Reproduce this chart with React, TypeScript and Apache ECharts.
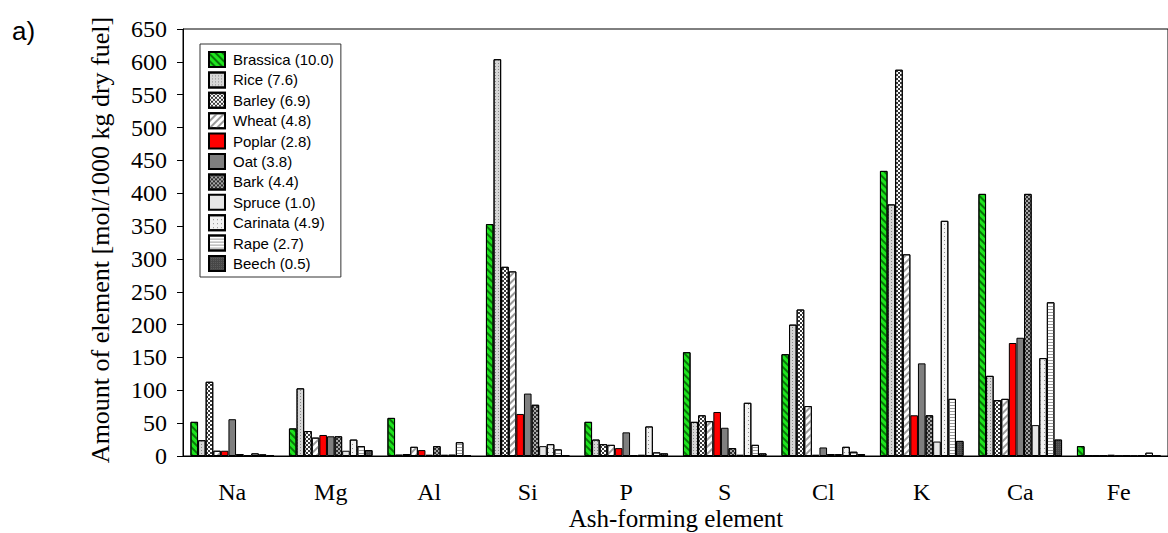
import React, { useEffect, useRef } from 'react';
import * as echarts from 'echarts';

const categories = ['Na', 'Mg', 'Al', 'Si', 'P', 'S', 'Cl', 'K', 'Ca', 'Fe'];
const seriesNames = [
  'Brassica (10.0)', 'Rice (7.6)', 'Barley (6.9)', 'Wheat (4.8)', 'Poplar (2.8)', 'Oat (3.8)',
  'Bark (4.4)', 'Spruce (1.0)', 'Carinata (4.9)', 'Rape (2.7)', 'Beech (0.5)',
];
const brassica = [52, 42, 58, 353, 52, 158, 155, 434, 399, 15];
const rice = [24, 103, 2, 604, 25, 52, 200, 383, 122, 0.5];
const barley = [113, 38, 3, 288, 18, 62, 223, 588, 85, 0.5];
const wheat = [8, 28, 14, 281, 17, 53, 76, 307, 87, 0.5];
const poplar = [8, 32, 9, 64, 12, 67, 2, 62, 172, 2];
const oat = [56, 30, 2, 95, 36, 43, 13, 141, 180, 0.5];
const bark = [3, 30, 15, 78, 1, 12, 3, 62, 399, 0.3];
const spruce = [1, 8, 2, 15, 2, 2, 3, 22, 47, 0.5];
const carinata = [4, 25, 2, 18, 45, 81, 14, 358, 149, 1];
const rape = [2.5, 15, 21, 10, 5.5, 17, 6.5, 87, 234, 5];
const beech = [1, 9, 1, 1, 4, 4, 3, 23, 25, 0.3];
const yTicks = { min: 0, max: 650, interval: 50 };

const seriesData = [brassica, rice, barley, wheat, poplar, oat, bark, spruce, carinata, rape, beech];

const diagBack = (color: string) => ({ symbol: 'rect', symbolSize: 1, dashArrayX: [1, 0], dashArrayY: [1.2, 2.4], rotation: Math.PI / 4, color });
const diagFwd = (color: string) => ({ symbol: 'rect', symbolSize: 1, dashArrayX: [1, 0], dashArrayY: [1.2, 2.4], rotation: -Math.PI / 4, color });
const dots = (color: string, gap: number) => ({ symbol: 'rect', symbolSize: 1, dashArrayX: [1, gap], dashArrayY: [1, gap], color });
const checker = (color: string) => ({ symbol: 'rect', symbolSize: 1, dashArrayX: [[1.5, 1.5], [0, 1.5, 1.5, 0]], dashArrayY: [1.5, 0], color });
const hlines = (color: string) => ({ symbol: 'rect', symbolSize: 1, dashArrayX: [1, 0], dashArrayY: [1, 2], color });

const styles: any[] = [
  { color: '#1ee41e', decal: diagBack('rgba(0,80,0,0.75)') },
  { color: '#d6d6d6', decal: dots('#8a8a8a', 2) },
  { color: '#ffffff', decal: checker('#3a3a3a') },
  { color: '#ffffff', decal: diagFwd('#9a9a9a') },
  { color: '#ff0000' },
  { color: '#7f7f7f' },
  { color: '#a8a8a8', decal: checker('#2e2e2e') },
  { color: '#e6e6e6' },
  { color: '#f2f2f2', decal: dots('#8c8c8c', 2.5) },
  { color: '#ffffff', decal: hlines('#9a9a9a') },
  { color: '#474747', decal: dots('#5c5c5c', 1) },
];

export default function App() {
  const ref = useRef<HTMLDivElement>(null);
  useEffect(() => {
    const chart = echarts.init(ref.current!, null, { renderer: 'svg' });
    const option: any = {
      animation: false,
      backgroundColor: '#ffffff',
      grid: { left: 183, top: 29, right: -3, bottom: 77, show: true, borderColor: '#000', borderWidth: 1 },
      legend: {
        orient: 'vertical', left: 200, top: 44, icon: 'rect',
        itemWidth: 16, itemHeight: 15, itemGap: 3.4,
        padding: [7, 7, 5, 8],
        borderColor: '#333', borderWidth: 1, backgroundColor: '#fff',
        textStyle: { fontFamily: 'Liberation Sans', fontSize: 15, lineHeight: 15, color: '#000', padding: [0, 0, 0, 3] },
        data: seriesNames,
      },
      xAxis: {
        type: 'category', data: categories,
        axisLine: { lineStyle: { color: '#000', width: 1 } },
        axisTick: { alignWithLabel: true, length: 6, lineStyle: { color: '#000' } },
        axisLabel: { fontFamily: 'Liberation Serif', fontSize: 24, color: '#000', margin: 24 },
      },
      yAxis: {
        type: 'value', min: yTicks.min, max: yTicks.max, interval: yTicks.interval,
        axisLine: { show: true, lineStyle: { color: '#000', width: 1 } },
        axisTick: { show: true, length: 6, lineStyle: { color: '#000' } },
        axisLabel: { fontFamily: 'Liberation Serif', fontSize: 24, color: '#000', margin: 16 },
        splitLine: { show: false },
      },
      graphic: [
        { type: 'text', left: 12, top: 18, style: { text: 'a)', font: '26px Liberation Sans', fill: '#000' } },
        {
          type: 'text', x: 100, y: 240, rotation: Math.PI / 2,
          style: { text: 'Amount of element [mol/1000 kg dry fuel]', font: '26px Liberation Serif', fill: '#000', textAlign: 'center', textVerticalAlign: 'middle', align: 'center', verticalAlign: 'middle' },
        },
        {
          type: 'text', x: 676, y: 518,
          style: { text: 'Ash-forming element', font: '25px Liberation Serif', fill: '#000', textAlign: 'center', textVerticalAlign: 'middle', align: 'center', verticalAlign: 'middle' },
        },
      ],
      series: seriesData.map((d, i) => ({
        type: 'bar', name: seriesNames[i], data: d,
        barWidth: 7.6, barGap: '0%',
        itemStyle: { color: styles[i].color, borderColor: '#000', borderWidth: 1, decal: styles[i].decal },
        emphasis: { disabled: true },
      })),
    };
    chart.setOption(option);
    return () => chart.dispose();
  }, []);
  return <div ref={ref} style={{ position: 'fixed', left: 0, top: 0, width: 1168, height: 533, background: '#fff' }} />;
}
